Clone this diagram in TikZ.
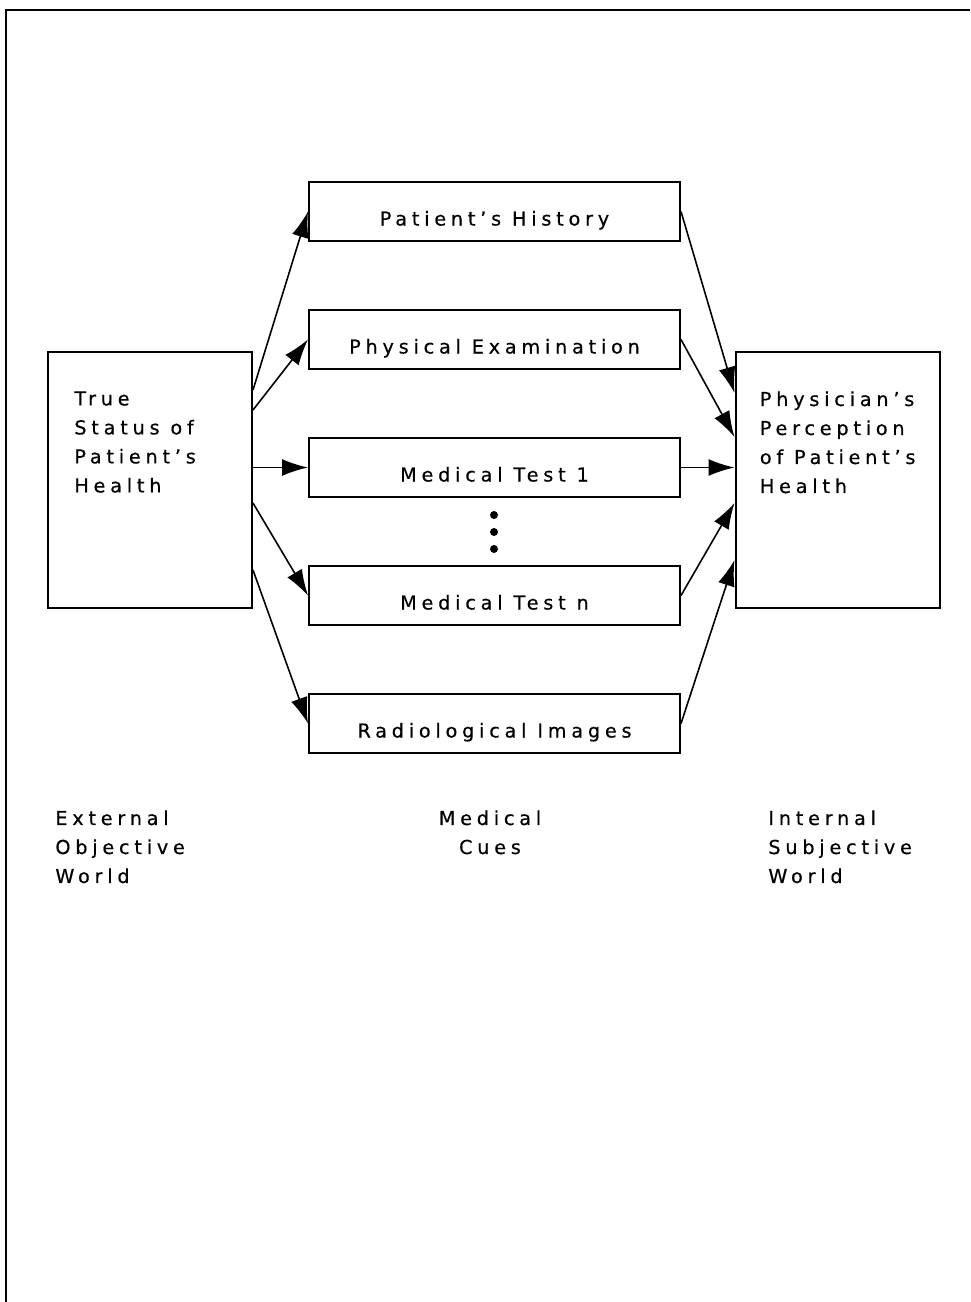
\documentclass[tikz,border=0pt]{standalone}
\usepackage{fontspec}
\setmainfont{DejaVu Sans}[LetterSpace=25,FakeBold=0.5]
\usetikzlibrary{arrows.meta}
\tikzset{
  cue/.style={draw,line width=1pt,minimum width=185.5pt,minimum height=29.5pt,inner sep=0pt,
    text height=14pt,text depth=0pt},
  world/.style={draw,line width=1pt,minimum width=102pt,minimum height=128pt,inner sep=0pt},
  lines/.style={align=left,inner sep=0pt},
  link/.style={line width=0.8pt,-{Latex[length=13pt,width=8.5pt]}}
}
\begin{document}
\begin{tikzpicture}[x=0.5pt,y=-0.5pt,font=\fontsize{9.6}{14.5}\selectfont]
\useasboundingbox (0,0) rectangle (970,1302);
\draw[line width=1pt] (970,10) -- (6,10) -- (6,1302);

\node[world] (truth) at (150,480) {};
\node[world] (percep) at (837.5,480) {};
\node[lines,anchor=north west] (truthtxt) at ([xshift=13.5pt,yshift=-20pt]truth.north west)
  {True\\Status of\\Patient's\\Health};
\node[lines,anchor=north west] (perceptxt) at ([xshift=12.5pt,yshift=-20pt]percep.north west)
  {Physician's\\Perception\\of Patient's\\Health};

\node[cue] (history) at (494.5,211.5) {Patient's History};
\node[cue] (exam) at (494.5,339.5) {Physical Examination};
\node[cue] (testone) at (494.5,467.5) {Medical Test 1};
\node[cue] (testn) at (494.5,595.5) {Medical Test n};
\node[cue] (images) at (494.5,723.5) {Radiological Images};
\foreach \y in {515,532,549}
  \fill (494,\y) circle[radius=4];

\draw[link] ([yshift=45pt]truth.east) -- (history.west);
\draw[link] ([yshift=35pt]truth.east) -- (exam.west);
\draw[link] (truth.east |- testone.west) -- (testone.west);
\draw[link] ([yshift=-11.5pt]truth.east) -- (testn.west);
\draw[link] ([yshift=-45pt]truth.east) -- (images.west);

\draw[link] (history.east) -- ([yshift=43.5pt]percep.west);
\draw[link] (exam.east) -- ([yshift=21.5pt]percep.west);
\draw[link] (testone.east) -- (testone.east -| percep.west);
\draw[link] (testn.east) -- ([yshift=-11.5pt]percep.west);
\draw[link] (images.east) -- ([yshift=-40pt]percep.west);

\node[lines,anchor=north west] (outer) at (55,810) {External\\Objective\\World};
\node[lines,align=center,anchor=north] (cues) at (490,810) {Medical\\Cues};
\node[lines,anchor=north west] (inner) at (768,810) {Internal\\Subjective\\World};
\end{tikzpicture}
\end{document}
